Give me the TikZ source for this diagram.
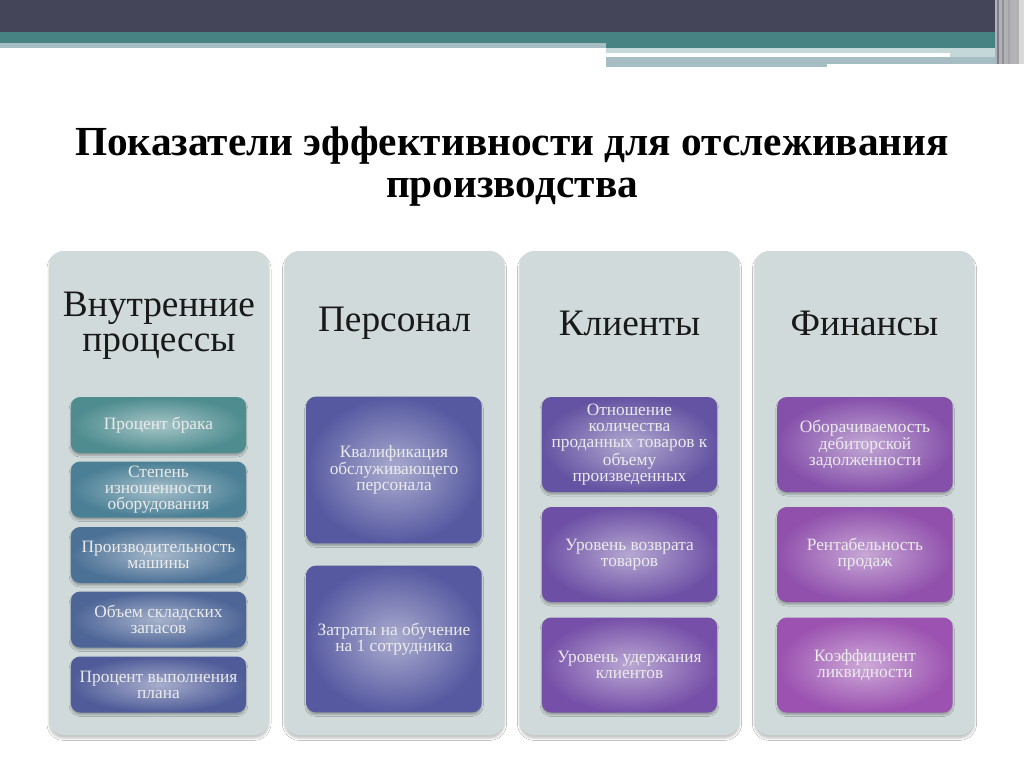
\documentclass[tikz,border=0pt]{standalone}
\usepackage{fontspec}
\setmainfont{Liberation Serif}
\usetikzlibrary{shadows.blur}
\definecolor{darkband}{HTML}{454559}
\definecolor{tealband}{HTML}{478383}
\definecolor{greyblue}{HTML}{A6BEC3}
\definecolor{lightcyan}{HTML}{C4D8DA}
\definecolor{panelc}{HTML}{D0DADA}
\definecolor{ba}{HTML}{4E8C8F}
\definecolor{bb}{HTML}{4A7F95}
\definecolor{bc}{HTML}{4C7196}
\definecolor{bd}{HTML}{4D6597}
\definecolor{be}{HTML}{4F5C99}
\definecolor{pa}{HTML}{5659A0}
\definecolor{ka}{HTML}{6453A2}
\definecolor{kb}{HTML}{6D50A5}
\definecolor{kc}{HTML}{7650A8}
\definecolor{fa}{HTML}{8550AA}
\definecolor{fb}{HTML}{9050AC}
\definecolor{fc}{HTML}{9B52B0}
\begin{document}
\begin{tikzpicture}[x=0.75pt,y=-0.75pt,
  panel/.style={rectangle, rounded corners=11pt, fill=panelc, minimum width=165pt,
    minimum height=363pt, inner sep=0pt,
    blur shadow={shadow xshift=0pt, shadow yshift=-2.5pt, shadow blur radius=1.5pt, shadow opacity=22}},
  head/.style={font=\fontsize{28}{26.5}\selectfont, align=center, text=black!90},
  titlestyle/.style={font=\bfseries\fontsize{31}{31.5}\selectfont, align=center, text=black},
  kbox/.style={rectangle, rounded corners=7pt, minimum width=131.5pt, align=center,
    inner sep=0pt, font=\fontsize{13}{12}\selectfont, text=white!92!black,
    blur shadow={shadow xshift=0pt, shadow yshift=-1.8pt, shadow blur radius=1.2pt, shadow opacity=28}},
  kc/.style={kbox, inner color=#1!50!white, outer color=#1},
  s1/.style={minimum height=42pt},
  s2/.style={minimum height=110pt},
  s3/.style={minimum height=71.25pt}
]
\useasboundingbox (0,0) rectangle (1024,767);
\fill[white] (0,0) rectangle (1024,767);
% header bands
\fill[darkband] (0,0) rectangle (1024,32);
\fill[tealband] (0,32) rectangle (1005,43);
\fill[greyblue] (0,43) rectangle (606,48);
\fill[tealband] (606,43) rectangle (1005,48);
\fill[lightcyan] (606,48) rectangle (1005,64);
\fill[white] (606,53) rectangle (950,57);
\fill[greyblue] (606,57) rectangle (1005,64);
\fill[greyblue] (606,64) rectangle (827,67);
\fill[black!30] (995,0) rectangle (1024,64);
\fill[darkband!70!white] (997,0) rectangle (999,64);
\fill[darkband!60!white] (1002,0) rectangle (1004,64);
\fill[darkband!50!white] (1008,0) rectangle (1010,64);
\fill[darkband!40!white] (1014,0) rectangle (1016,64);
\fill[white!85!black] (1019,0) rectangle (1024,64);
% title
\node[titlestyle] (title) at (512,167) {Показатели эффективности для отслеживания\\производства};
% panels
\node[panel] (p1) at (159,493) {};
\node[panel] (p2) at (394.5,493) {};
\node[panel] (p3) at (629.5,493) {};
\node[panel] (p4) at (864.5,493) {};
% headings
\node[head] (h1) at (159,326) {Внутренние\\процессы};
\node[head] (h2) at (394.5,323) {Персонал};
\node[head] (h3) at (629.5,323) {Клиенты};
\node[head] (h4) at (864.5,323) {Финансы};
% column 1
\node[kc=ba, s1] (a1) at (158.5,425) {Процент брака};
\node[kc=bb, s1] (a2) at (158.5,489.5) {Степень\\изношенности\\оборудования};
\node[kc=bc, s1] (a3) at (158.5,555) {Производительность\\машины};
\node[kc=bd, s1] (a4) at (158.5,619.5) {Объем складских\\запасов};
\node[kc=be, s1] (a5) at (158.5,684.5) {Процент выполнения\\плана};
% column 2
\node[kc=pa, s2] (b1) at (394,470) {Квалификация\\обслуживающего\\персонала};
\node[kc=pa, s2] (b2) at (394,639) {Затраты на обучение\\на 1 сотрудника};
% column 3
\node[kc=ka, s3] (c1) at (629.5,444.5) {Отношение\\количества\\проданных товаров к\\объему\\произведенных};
\node[kc=kb, s3] (c2) at (629.5,554.5) {Уровень возврата\\товаров};
\node[kc=kc, s3] (c3) at (629.5,665) {Уровень удержания\\клиентов};
% column 4
\node[kc=fa, s3] (d1) at (865,444.5) {Оборачиваемость\\дебиторской\\задолженности};
\node[kc=fb, s3] (d2) at (865,554.5) {Рентабельность\\продаж};
\node[kc=fc, s3] (d3) at (865,665) {Коэффициент\\ликвидности};
\end{tikzpicture}
\end{document}
